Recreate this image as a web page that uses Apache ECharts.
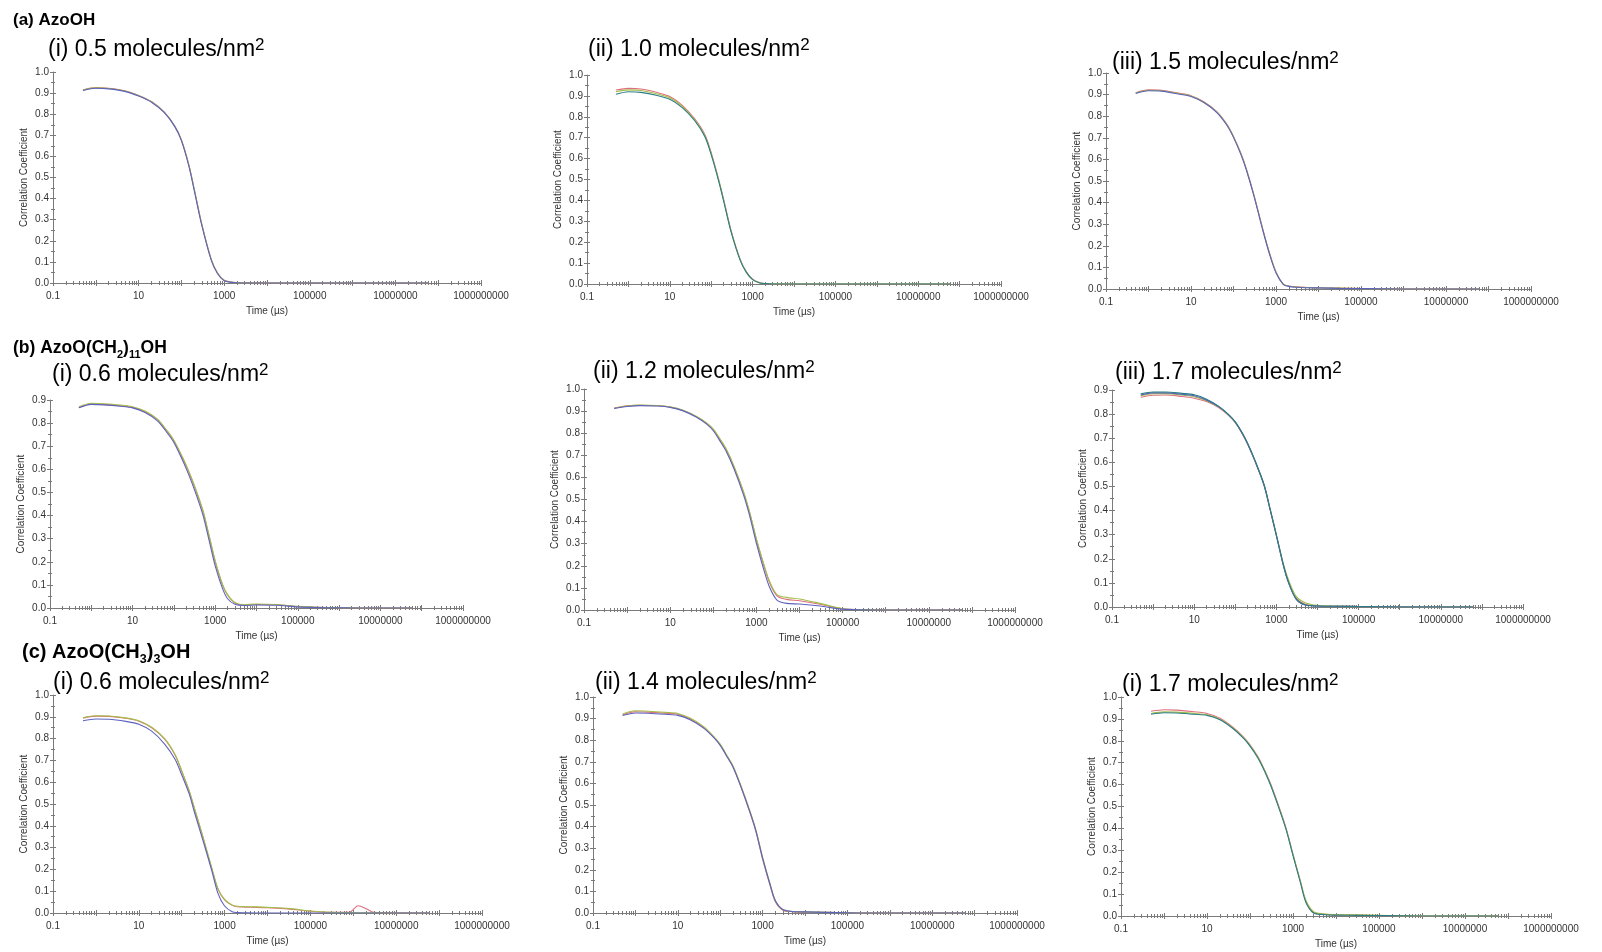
<!DOCTYPE html>
<html><head><meta charset="utf-8">
<script src="https://cdn.jsdelivr.net/npm/echarts@6/dist/echarts.min.js"></script>
<style>html,body{margin:0;padding:0;background:#fff}#c{width:1602px;height:952px}</style>
</head><body><div id="c"></div>
<script>
// ---------- DATA ----------
const TIME = [0.5, 1, 2, 5, 10, 20, 40, 70, 100, 150,
  200, 300, 500, 700, 1000, 1500, 2000, 3000, 5000, 10000,
  30000, 100000, 300000, 800000, 1300000, 2000000, 3000000, 10000000, 60000000];

const X_LABELS = [0.1, 10, 1000, 100000, 10000000, 1000000000];
const X_DECADES = [0.1, 1, 10, 100, 1000, 10000, 100000, 1000000, 10000000, 100000000, 1000000000];

// (a)(i)
const A1_RED   = [0.915,0.926,0.923,0.910,0.889,0.860,0.810,0.744,0.679,0.559, 0.444,0.279,0.111,0.047,0.013,0.004,0.002,0.001,0.001,0, 0,0,0,0,0,0,0,0,0];
const A1_GREEN = [0.914,0.925,0.922,0.909,0.888,0.859,0.809,0.743,0.677,0.557, 0.442,0.277,0.110,0.046,0.012,0.003,0.001,0,0,0, 0,0,0,0,0,0,0,0,0];
const A1_BLUE  = [0.912,0.923,0.920,0.907,0.886,0.857,0.807,0.741,0.675,0.553, 0.438,0.273,0.107,0.044,0.011,0.003,0.001,0,0,0, 0,0,0,0,0,0,0,0,0];
// (a)(ii)
const A2_RED   = [0.928,0.936,0.933,0.916,0.897,0.855,0.790,0.715,0.628,0.503, 0.404,0.258,0.118,0.060,0.023,0.006,0.002,0.001,0,0, 0,0,0,0,0,0,0,0,0];
const A2_GREEN = [0.920,0.929,0.926,0.909,0.891,0.850,0.786,0.711,0.624,0.500, 0.401,0.255,0.116,0.058,0.022,0.005,0.002,0.001,0,0, 0,0,0,0,0,0,0,0,0];
const A2_TEAL  = [0.908,0.920,0.917,0.902,0.884,0.844,0.781,0.706,0.619,0.496, 0.397,0.252,0.114,0.057,0.021,0.005,0.002,0,0,0, 0,0,0,0,0,0,0,0,0];
// (a)(iii)
const A3_RED   = [0.909,0.922,0.920,0.907,0.895,0.867,0.822,0.762,0.706,0.627, 0.557,0.438,0.270,0.168,0.079,0.022,0.014,0.010,0.008,0.006, 0.004,0.002,0.001,0,0,0,0,0,0];
const A3_GREEN = [0.907,0.920,0.918,0.905,0.893,0.865,0.820,0.760,0.704,0.625, 0.555,0.436,0.268,0.166,0.078,0.021,0.013,0.009,0.007,0.005, 0.004,0.002,0.001,0,0,0,0,0,0];
const A3_BLUE  = [0.905,0.918,0.916,0.903,0.891,0.863,0.818,0.758,0.702,0.622, 0.552,0.433,0.265,0.163,0.075,0.020,0.012,0.008,0.006,0.005, 0.003,0.002,0.001,0,0,0,0,0,0];
// (b)(i)
const B1_RED   = [0.868,0.883,0.881,0.875,0.868,0.849,0.815,0.762,0.723,0.661, 0.613,0.535,0.420,0.315,0.200,0.100,0.055,0.022,0.013,0.015, 0.014,0.006,0.003,0.002,0.001,0,0,0,0];
const B1_GREEN = [0.871,0.886,0.884,0.878,0.871,0.852,0.817,0.765,0.726,0.665, 0.617,0.540,0.425,0.320,0.205,0.103,0.058,0.024,0.014,0.017, 0.015,0.007,0.003,0.002,0.001,0.001,0,0,0];
const B1_BLUE  = [0.866,0.881,0.879,0.873,0.866,0.846,0.810,0.756,0.716,0.652, 0.602,0.522,0.405,0.298,0.182,0.085,0.040,0.016,0.011,0.013, 0.012,0.005,0.002,0.001,0.001,0,0,0,0];
// (b)(ii)
const B2_RED   = [0.914,0.924,0.926,0.924,0.918,0.903,0.876,0.845,0.816,0.765, 0.725,0.649,0.533,0.438,0.318,0.200,0.126,0.064,0.048,0.042, 0.026,0.005,0.002,0.001,0,0,0,0,0];
const B2_GREEN = [0.913,0.923,0.927,0.925,0.919,0.904,0.877,0.847,0.818,0.768, 0.728,0.652,0.537,0.442,0.322,0.205,0.132,0.070,0.057,0.050, 0.030,0.006,0.002,0.001,0,0,0,0,0];
const B2_BLUE  = [0.912,0.921,0.925,0.923,0.917,0.901,0.873,0.841,0.811,0.758, 0.717,0.640,0.522,0.425,0.302,0.180,0.105,0.045,0.030,0.027, 0.018,0.004,0.001,0,0,0,0,0,0];
// (b)(iii)
const B3_RED   = [0.870,0.878,0.879,0.873,0.866,0.852,0.826,0.793,0.764,0.716, 0.675,0.606,0.506,0.406,0.297,0.170,0.102,0.038,0.011,0.005, 0.003,0.002,0.001,0,0,0,0,0,0];
const B3_GREEN = [0.876,0.885,0.885,0.879,0.872,0.855,0.829,0.795,0.766,0.718, 0.676,0.607,0.507,0.408,0.300,0.176,0.110,0.045,0.018,0.007, 0.004,0.002,0.001,0,0,0,0,0,0];
const B3_BLUE  = [0.879,0.888,0.888,0.882,0.876,0.858,0.830,0.796,0.767,0.719, 0.676,0.606,0.505,0.405,0.295,0.167,0.097,0.033,0.008,0.004, 0.003,0.002,0.001,0,0,0,0,0,0];
const B3_TEAL  = [0.884,0.892,0.892,0.886,0.880,0.862,0.832,0.797,0.768,0.720, 0.679,0.609,0.508,0.408,0.298,0.170,0.100,0.035,0.009,0.004, 0.003,0.002,0.001,0,0,0,0,0,0];
// (c)(i)
const C1_RED   = [0.894,0.903,0.902,0.893,0.880,0.850,0.798,0.725,0.651,0.558, 0.476,0.360,0.206,0.110,0.060,0.035,0.029,0.027,0.026,0.024, 0.019,0.008,0.003,0.003,0.033,0.020,0.003,0,0];
const C1_GREEN = [0.896,0.905,0.904,0.895,0.882,0.852,0.800,0.727,0.653,0.560, 0.478,0.362,0.208,0.112,0.062,0.037,0.031,0.029,0.028,0.026, 0.021,0.009,0.003,0.002,0.001,0.001,0.001,0,0];
const C1_BLUE  = [0.882,0.890,0.889,0.879,0.866,0.834,0.775,0.705,0.634,0.545, 0.460,0.345,0.196,0.090,0.032,0.006,0.002,0.001,0,0, 0,0,0,0,0,0,0,0,0];
// (c)(ii)
const C2_RED   = [0.918,0.932,0.930,0.925,0.920,0.898,0.860,0.814,0.778,0.720, 0.677,0.590,0.466,0.375,0.250,0.128,0.052,0.013,0.006,0.004, 0.003,0.001,0,0,0,0,0,0,0];
const C2_GREEN = [0.921,0.936,0.934,0.929,0.924,0.902,0.864,0.818,0.782,0.724, 0.682,0.596,0.474,0.383,0.259,0.136,0.058,0.016,0.007,0.005, 0.003,0.001,0,0,0,0,0,0,0];
const C2_BLUE  = [0.914,0.926,0.925,0.920,0.915,0.894,0.857,0.813,0.776,0.719, 0.676,0.591,0.469,0.378,0.254,0.132,0.057,0.016,0.007,0.005, 0.003,0.001,0,0,0,0,0,0,0];
// (c)(iii)
const C3_RED   = [0.935,0.942,0.940,0.933,0.925,0.903,0.862,0.818,0.782,0.730, 0.683,0.605,0.484,0.397,0.282,0.155,0.066,0.016,0.008,0.005, 0.004,0.002,0.001,0,0,0,0,0,0];
const C3_GREEN = [0.925,0.932,0.931,0.925,0.919,0.899,0.859,0.815,0.779,0.727, 0.680,0.601,0.481,0.394,0.280,0.157,0.072,0.020,0.010,0.006, 0.005,0.003,0.001,0,0,0,0,0,0];
const C3_TEAL  = [0.921,0.928,0.927,0.921,0.916,0.896,0.856,0.812,0.776,0.724, 0.677,0.598,0.478,0.391,0.276,0.150,0.062,0.014,0.007,0.004, 0.003,0.002,0.001,0,0,0,0,0,0];

const SECTION_TITLES = ['(a) AzoOH', '(b) AzoO(CH{s|2}){s|11}OH', '(c) AzoO(CH{s|3}){s|3}OH'];
const PANEL_TITLES = ['(i) 0.5 molecules/nm', '(ii) 1.0 molecules/nm', '(iii) 1.5 molecules/nm',
  '(i) 0.6 molecules/nm', '(ii) 1.2 molecules/nm', '(iii) 1.7 molecules/nm',
  '(i) 0.6 molecules/nm', '(ii) 1.4 molecules/nm', '(i) 1.7 molecules/nm'];
const Y_NAME = 'Correlation Coefficient';
const X_NAME = 'Time (µs)';

// ---------- LAYOUT / STYLE ----------
const COLORS = {red:'#de6f7c', green:'#a2be4a', blue:'#5c63bf', teal:'#2c7c86'};
const FONT = '"Liberation Sans", Arial, Helvetica, sans-serif';
const AXIS_COLOR = '#7a7a7a';
const TEXT_COLOR = '#333333';

const PANELS = [
  {rect:[53,72,428,211],  ymax:1.0, tpos:[48,50],   lines:[[A1_RED,'red'],[A1_GREEN,'green'],[A1_BLUE,'blue']]},
  {rect:[587,75,414,209], ymax:1.0, tpos:[588,50],  lines:[[A2_RED,'red'],[A2_GREEN,'green'],[A2_TEAL,'teal']]},
  {rect:[1106,73,425,216],ymax:1.0, tpos:[1112,63], lines:[[A3_RED,'red'],[A3_GREEN,'green'],[A3_BLUE,'blue']]},
  {rect:[50,400,413,208], ymax:0.9, tpos:[52,375],  lines:[[B1_RED,'red'],[B1_GREEN,'green'],[B1_BLUE,'blue']]},
  {rect:[584,389,431,221],ymax:1.0, tpos:[593,372], lines:[[B2_RED,'red'],[B2_GREEN,'green'],[B2_BLUE,'blue']]},
  {rect:[1112,390,411,217],ymax:0.9,tpos:[1115,373],lines:[[B3_RED,'red'],[B3_GREEN,'green'],[B3_BLUE,'blue'],[B3_TEAL,'teal']]},
  {rect:[53,695,429,218], ymax:1.0, tpos:[53,683],  lines:[[C1_RED,'red'],[C1_GREEN,'green'],[C1_BLUE,'blue']]},
  {rect:[593,697,424,216],ymax:1.0, tpos:[595,683], lines:[[C2_RED,'red'],[C2_GREEN,'green'],[C2_BLUE,'blue']]},
  {rect:[1121,697,430,219],ymax:1.0,tpos:[1122,685],lines:[[C3_RED,'red'],[C3_GREEN,'green'],[C3_TEAL,'teal']]}
];
const SECTION_POS = [[13,20,17,11],[13,348,17.5,11],[22,652,20,12.5]];

// minor log tick positions (2..9 within each decade)
const X_MINOR = [];
X_DECADES.slice(0, -1).forEach(d => { for (let m = 2; m <= 9; m++) X_MINOR.push(+(m * d).toPrecision(6)); });

const fmtX = v => (v < 1 ? String(+v.toFixed(1)) : String(Math.round(v)));

const grids = [], xAxes = [], yAxes = [], series = [];
const tickStyle = {color: AXIS_COLOR, width: 1};
PANELS.forEach((p, i) => {
  for (let k = 0; k < 4; k++) {
    const g = grids.length;
    grids.push({left:p.rect[0], top:p.rect[1], width:p.rect[2], height:p.rect[3], containLabel:false, outerBoundsMode:'none', show:false});
    const xa = {type:'log', logBase:10, min:0.1, max:1e9, gridIndex:g, position:'bottom',
      splitLine:{show:false}, minorSplitLine:{show:false}, axisLine:{show:false, onZero:false},
      axisLabel:{show:false}, axisTick:{show:false}, minorTick:{show:false}, silent:true, axisPointer:{show:false}};
    const ya = {type:'value', min:0, max:p.ymax, interval:0.1, gridIndex:g, position:'left',
      splitLine:{show:false}, minorSplitLine:{show:false}, axisLine:{show:false, onZero:false},
      axisLabel:{show:false}, axisTick:{show:false}, minorTick:{show:false}, silent:true, axisPointer:{show:false}};
    if (k === 0) {
      xa.axisLine = {show:true, onZero:false, lineStyle:{color:AXIS_COLOR, width:1}};
      xa.axisTick = {show:true, customValues:X_DECADES, length:3, inside:false, lineStyle:tickStyle};
      xa.axisLabel = {show:true, customValues:X_LABELS, formatter:fmtX, fontSize:10, color:TEXT_COLOR, fontFamily:FONT, margin:8, hideOverlap:false};
      xa.name = X_NAME; xa.nameLocation = 'middle'; xa.nameGap = 23; xa.nameMoveOverlap = false;
      xa.nameTextStyle = {fontSize:10, color:TEXT_COLOR, fontFamily:FONT};
      ya.axisLine = {show:true, onZero:false, lineStyle:{color:AXIS_COLOR, width:1}};
      ya.axisTick = {show:true, length:3, inside:false, lineStyle:tickStyle};
      ya.minorTick = {show:true, splitNumber:2, length:2, lineStyle:tickStyle};
      ya.axisLabel = {show:true, formatter:v => v.toFixed(1), fontSize:10, color:TEXT_COLOR, fontFamily:FONT, margin:4, hideOverlap:false};
      ya.name = Y_NAME; ya.nameLocation = 'middle'; ya.nameGap = 24; ya.nameRotate = 90; ya.nameMoveOverlap = false;
      ya.nameTextStyle = {fontSize:10, color:TEXT_COLOR, fontFamily:FONT};
    } else if (k === 1) {
      xa.axisTick = {show:true, customValues:X_DECADES, length:3, inside:true, lineStyle:tickStyle};
      ya.axisTick = {show:true, length:3, inside:true, lineStyle:tickStyle};
      ya.minorTick = {show:true, splitNumber:2, length:2, lineStyle:tickStyle};
    } else {
      xa.axisTick = {show:true, customValues:X_MINOR, length:2, inside:(k === 3), lineStyle:tickStyle};
    }
    xAxes.push(xa); yAxes.push(ya);
  }
  const gi = i * 4;
  p.lines.forEach(([vals, c]) => {
    series.push({type:'line', xAxisIndex:gi, yAxisIndex:gi,
      data: TIME.map((t, j) => [t, vals[j]]),
      showSymbol:false, symbol:'none', smooth:0.3, clip:true, silent:true,
      lineStyle:{width:1.1, color:COLORS[c]}, itemStyle:{color:COLORS[c]}});
  });
});

const graphics = [];
SECTION_TITLES.forEach((t, i) => {
  const [x, y, fs, sfs] = SECTION_POS[i];
  graphics.push({type:'text', x:x, y:y, silent:true, style:{
    text:t, fill:'#000', fontSize:fs, fontWeight:'bold', fontFamily:FONT,
    align:'left', verticalAlign:'middle', lineHeight:Math.round(fs * 1.4),
    rich:{s:{fontSize:sfs, fontWeight:'bold', fontFamily:FONT, fill:'#000', verticalAlign:'bottom', lineHeight:Math.round(sfs)}}
  }});
});
PANELS.forEach((p, i) => {
  graphics.push({type:'text', x:p.tpos[0], y:p.tpos[1], silent:true, style:{
    text:PANEL_TITLES[i] + '{p|2}', fill:'#000', fontSize:23, fontFamily:FONT,
    align:'left', verticalAlign:'middle', lineHeight:25,
    rich:{p:{fontSize:17, fontFamily:FONT, fill:'#000', verticalAlign:'middle', padding:[0,0,10,0]}}
  }});
});

const chart = echarts.init(document.getElementById('c'), null, {renderer:'canvas'});
chart.setOption({
  backgroundColor:'#ffffff',
  animation:false,
  grid:grids, xAxis:xAxes, yAxis:yAxes, series:series,
  graphic:{elements:graphics}
});
</script>
</body></html>
